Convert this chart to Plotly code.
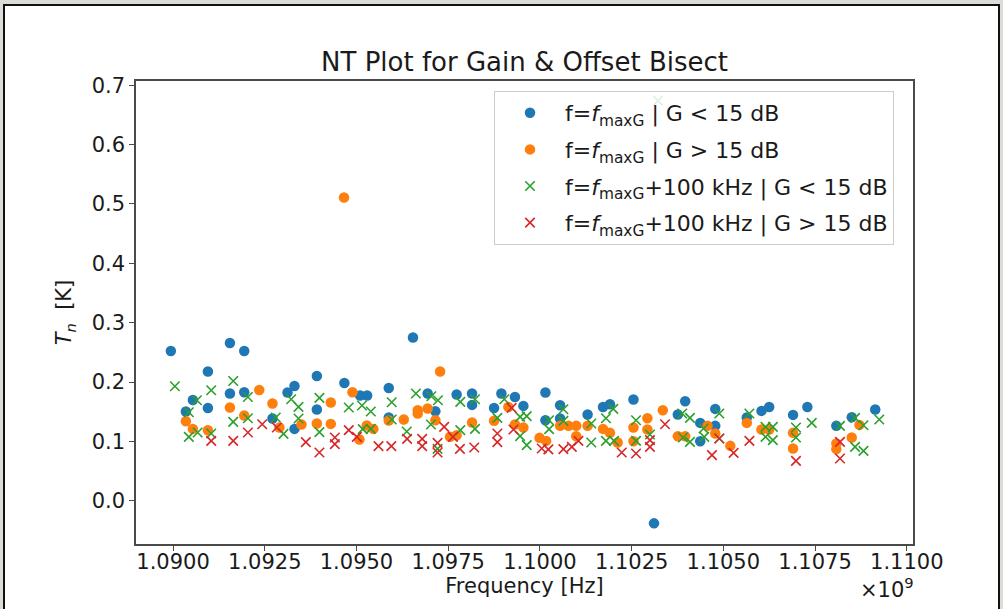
import plotly.graph_objects as go

# Noise temperature measurements, frequencies in GHz (converted to Hz for plotting)
f_lo_gain_ghz = [1.08994, 1.09035, 1.09054, 1.09095, 1.09095, 1.09155, 1.09155, 1.09194, 1.09194,
                 1.09271, 1.09312, 1.09331, 1.09331, 1.09392, 1.09392, 1.09467, 1.09510, 1.09529,
                 1.09588, 1.09588, 1.09654, 1.09694, 1.09715, 1.09773, 1.09815, 1.09815, 1.09875,
                 1.09895, 1.09932, 1.09955, 1.10015, 1.10015, 1.10055, 1.10055, 1.10130, 1.10172,
                 1.10191, 1.10255, 1.10311, 1.10376, 1.10396, 1.10437, 1.10437, 1.10478, 1.10478,
                 1.10564, 1.10604, 1.10625, 1.10690, 1.10729, 1.10808, 1.10850, 1.10914]
tn_lo_gain = [0.2523, 0.1504, 0.1699, 0.2177, 0.1564, 0.2658, 0.1807, 0.2523, 0.1828,
              0.1386, 0.1823, 0.1934, 0.1211, 0.2103, 0.1537, 0.1985, 0.1773, 0.1773,
              0.1901, 0.1403, 0.2749, 0.1807, 0.1509, 0.1790, 0.1807, 0.1615, 0.1564,
              0.1807, 0.1749, 0.1598, 0.1823, 0.1357, 0.1610, 0.1386, 0.1453, 0.1581,
              0.1627, 0.1706, -0.0380, 0.1453, 0.1677, 0.1312, 0.1004, 0.1548, 0.1262,
              0.1403, 0.1514, 0.1581, 0.1447, 0.1581, 0.1262, 0.1408, 0.1537]

f_hi_gain_ghz = [1.09035, 1.09054, 1.09095, 1.09155, 1.09194, 1.09235, 1.09271, 1.09290, 1.09350,
                 1.09392, 1.09430, 1.09430, 1.09466, 1.09489, 1.09508, 1.09528, 1.09546, 1.09588,
                 1.09629, 1.09667, 1.09667, 1.09694, 1.09715, 1.09728, 1.09755, 1.09773, 1.09815,
                 1.09875, 1.09914, 1.09932, 1.09955, 1.09999, 1.10017, 1.10055, 1.10078, 1.10099,
                 1.10099, 1.10130, 1.10172, 1.10191, 1.10212, 1.10255, 1.10255, 1.10293, 1.10293,
                 1.10335, 1.10376, 1.10396, 1.10457, 1.10478, 1.10519, 1.10564, 1.10604, 1.10625,
                 1.10690, 1.10690, 1.10808, 1.10808, 1.10850, 1.10871]
tn_hi_gain = [0.1341, 0.1211, 0.1189, 0.1571, 0.1436, 0.1867, 0.1638, 0.1235, 0.1285,
              0.1302, 0.1655, 0.1295, 0.5108, 0.1828, 0.1033, 0.1268, 0.1211, 0.1352,
              0.1369, 0.1526, 0.1470, 0.1554, 0.1357, 0.2177, 0.1077, 0.1105, 0.1319,
              0.1346, 0.1581, 0.1285, 0.1235, 0.1060, 0.1009, 0.1262, 0.1262, 0.1262,
              0.1088, 0.1262, 0.1211, 0.1144, 0.0982, 0.1235, 0.1004, 0.1391, 0.1201,
              0.1526, 0.1088, 0.1088, 0.1262, 0.1134, 0.0925, 0.1312, 0.1201, 0.1201,
              0.1144, 0.0881, 0.0966, 0.0870, 0.1066, 0.1278]

f_off_lo_gain_ghz = [1.09005, 1.09043, 1.09043, 1.09065, 1.09067, 1.09104, 1.09104, 1.09164, 1.09164,
                     1.09204, 1.09204, 1.09280, 1.09301, 1.09322, 1.09342, 1.09342, 1.09399, 1.09399,
                     1.09479, 1.09515, 1.09539, 1.09517, 1.09539, 1.09596, 1.09596, 1.09637, 1.09662,
                     1.09704, 1.09722, 1.09703, 1.09721, 1.09783, 1.09783, 1.09823, 1.09823, 1.09884,
                     1.09903, 1.09946, 1.09964, 1.09946, 1.09964, 1.10025, 1.10025, 1.10064, 1.10064,
                     1.10140, 1.10140, 1.10180, 1.10180, 1.10200, 1.10202, 1.10262, 1.10262, 1.10300,
                     1.10322, 1.10388, 1.10409, 1.10390, 1.10409, 1.10446, 1.10448, 1.10489, 1.10489,
                     1.10571, 1.10615, 1.10635, 1.10615, 1.10635, 1.10698, 1.10698, 1.10741, 1.10818,
                     1.10859, 1.10882, 1.10859, 1.10882, 1.10925]
tn_off_lo_gain = [0.1929, 0.1492, 0.1077, 0.1694, 0.1151, 0.1862, 0.1134, 0.2018, 0.1329,
                  0.1749, 0.1391, 0.1403, 0.1127, 0.1711, 0.1581, 0.1386, 0.1733, 0.1156,
                  0.1571, 0.1605, 0.1504, 0.1206, 0.1211, 0.1660, 0.1369, 0.1167, 0.1807,
                  0.1761, 0.1694, 0.1285, 0.0875, 0.1665, 0.1189, 0.1711, 0.1211, 0.1396,
                  0.1711, 0.1413, 0.1425, 0.1088, 0.0937, 0.1357, 0.1206, 0.1542, 0.1346,
                  0.1302, 0.0982, 0.1391, 0.1009, 0.1548, 0.1009, 0.1357, 0.1009, 0.1117,
                  0.6740, 0.1470, 0.1396, 0.1066, 0.0992, 0.1218, 0.1077, 0.1470, 0.1050,
                  0.1470, 0.1245, 0.1245, 0.1077, 0.1021, 0.1235, 0.1066, 0.1312, 0.1262,
                  0.1396, 0.1273, 0.0908, 0.0841, 0.1369]

f_off_hi_gain_ghz = [1.09104, 1.09164, 1.09204, 1.09243, 1.09283, 1.09362, 1.09399, 1.09441, 1.09441,
                     1.09479, 1.09501, 1.09560, 1.09595, 1.09638, 1.09679, 1.09679, 1.09721, 1.09721,
                     1.09739, 1.09763, 1.09782, 1.09821, 1.09884, 1.09884, 1.09923, 1.09928, 1.10005,
                     1.10023, 1.10064, 1.10087, 1.10105, 1.10223, 1.10262, 1.10300, 1.10300, 1.10341,
                     1.10469, 1.10489, 1.10528, 1.10571, 1.10698, 1.10818, 1.10818]
tn_off_hi_gain = [0.1009, 0.1009, 0.1151, 0.1290, 0.1235, 0.0987, 0.0814, 0.1066, 0.0954,
                  0.1189, 0.1077, 0.0920, 0.0920, 0.1043, 0.1043, 0.0920, 0.0976, 0.0814,
                  0.1245, 0.1077, 0.0875, 0.0898, 0.1134, 0.0987, 0.1564, 0.1201, 0.0881,
                  0.0865, 0.0870, 0.0908, 0.1009, 0.0814, 0.0797, 0.1021, 0.0908, 0.1290,
                  0.0769, 0.1050, 0.0807, 0.1009, 0.0673, 0.0992, 0.0713]

x_tick_labels = ["1.0900", "1.0925", "1.0950", "1.0975", "1.1000", "1.1025", "1.1050", "1.1075", "1.1100"]
y_tick_labels = ["0.0", "0.1", "0.2", "0.3", "0.4", "0.5", "0.6", "0.7"]

series = [
    ("f=<i>f</i><sub>maxG</sub> | G &lt; 15 dB", f_lo_gain_ghz, tn_lo_gain, "#1f77b4", "circle"),
    ("f=<i>f</i><sub>maxG</sub> | G &gt; 15 dB", f_hi_gain_ghz, tn_hi_gain, "#ff7f0e", "circle"),
    ("f=<i>f</i><sub>maxG</sub>+100 kHz | G &lt; 15 dB", f_off_lo_gain_ghz, tn_off_lo_gain, "#2ca02c", "x-thin"),
    ("f=<i>f</i><sub>maxG</sub>+100 kHz | G &gt; 15 dB", f_off_hi_gain_ghz, tn_off_hi_gain, "#d62728", "x-thin"),
]

FONT = "DejaVu Sans, sans-serif"
INK = "#1a1a1a"
SPINE = "#4a4a4a"
FS = 21

fig = go.Figure()
for i, (name, f_ghz, tn, color, symbol) in enumerate(series):
    if symbol == "circle":
        marker = dict(symbol="circle", size=10.5, color=color, line=dict(width=0))
    else:
        marker = dict(symbol="x-thin", size=9.5, color=color, line=dict(width=1.6, color=color))
    fig.add_trace(go.Scatter(
        x=[f * 1e9 for f in f_ghz], y=tn, mode="markers", name=name,
        marker=marker, legendgroup=f"g{i}",
    ))

# plot area geometry (pixels)
L, R, T, B = 136, 90, 81, 65
W, H = 1003, 609
pw, ph = W - L - R, H - T - B

def px_x(x):
    return (x - L) / pw

def px_y(y):
    return (H - B - y) / ph

# white figure panel with dark border on a grey surround
fig.add_shape(type="rect", xref="paper", yref="paper",
              x0=px_x(4), x1=px_x(999), y0=px_y(640), y1=px_y(5),
              fillcolor="white", line=dict(color="#111111", width=2), layer="below")

fig.add_annotation(text="×10<sup>9</sup>", xref="paper", yref="paper",
                   x=px_x(916), y=px_y(588), xanchor="right", yanchor="middle",
                   showarrow=False, font=dict(family=FONT, size=FS, color=INK))

x_tick_vals = [float(t) * 1e9 for t in x_tick_labels]
y_tick_vals = [float(t) for t in y_tick_labels]

fig.update_layout(
    width=W, height=H,
    margin=dict(l=L, r=R, t=T, b=B),
    paper_bgcolor="#dcdcd6",
    plot_bgcolor="white",
    font=dict(family=FONT, size=FS, color=INK),
    title=dict(text="NT Plot for Gain &amp; Offset Bisect", x=0.5, xref="paper",
               y=1 - 62 / H, yref="container", xanchor="center", yanchor="middle",
               font=dict(family=FONT, size=26, color=INK)),
    showlegend=True,
    legend=dict(x=px_x(494), y=px_y(91), xanchor="left", yanchor="top",
                bgcolor="rgba(255,255,255,0.85)", bordercolor="#cccccc", borderwidth=1,
                font=dict(family=FONT, size=22, color=INK), tracegroupgap=5,
                itemsizing="trace", itemwidth=60),
    xaxis=dict(range=[1.08899e9, 1.11017e9], tickvals=x_tick_vals, ticktext=x_tick_labels,
               showgrid=False, zeroline=False, showline=True, mirror=True,
               linecolor=SPINE, linewidth=1.5, ticks="outside", ticklen=5, tickwidth=1.3,
               tickcolor=SPINE, tickfont=dict(family=FONT, size=FS, color=INK),
               ticklabelstandoff=-7,
               title=dict(text="Frequency [Hz]", standoff=4,
                          font=dict(family=FONT, size=FS, color=INK))),
    yaxis=dict(range=[-0.0728, 0.7071], tickvals=y_tick_vals, ticktext=y_tick_labels,
               showgrid=False, zeroline=False, showline=True, mirror=True,
               linecolor=SPINE, linewidth=1.5, ticks="outside", ticklen=5, tickwidth=1.3,
               tickcolor=SPINE, tickfont=dict(family=FONT, size=FS, color=INK),
               title=dict(text="<i>T</i><sub><i>n</i></sub>  [K]", standoff=14,
                          font=dict(family=FONT, size=FS, color=INK))),
)

fig.write_html("out.html")
